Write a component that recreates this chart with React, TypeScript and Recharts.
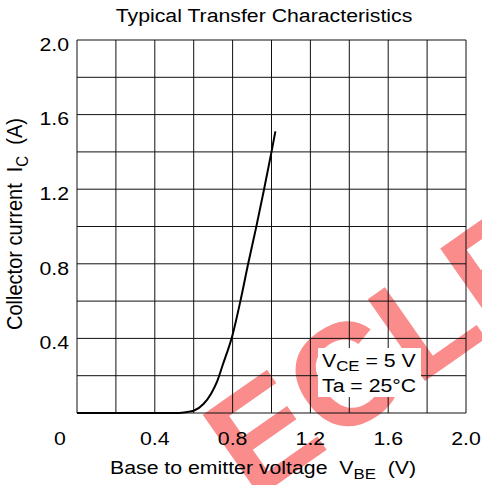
import React from 'react';
import { LineChart, Line, XAxis, YAxis, CartesianGrid } from 'recharts';

// VBE (V) vs IC (A)
const vbe = [0, 0.5, 0.55, 0.6, 0.65, 0.69, 0.72, 0.75, 0.8, 0.84, 0.88, 0.92, 0.96, 1.0, 1.02];
const ic = [0, 0, 0.003, 0.012, 0.048, 0.105, 0.168, 0.26, 0.42, 0.6, 0.8, 0.99, 1.19, 1.4, 1.51];

const gridSteps = [0, 0.2, 0.4, 0.6, 0.8, 1.0, 1.2, 1.4, 1.6, 1.8, 2.0];
const xLabels = ['0', '0.4', '0.8', '1.2', '1.6', '2.0'];
const yLabels = ['0.4', '0.8', '1.2', '1.6', '2.0'];

const data = vbe.map((v, i) => ({ vbe: v, ic: ic[i] }));

const FONT = '"Liberation Sans", Arial, Helvetica, sans-serif';
const SX = 1.12; // source picture is stretched a bit horizontally

const XTick = (props: any) => {
  const { x, y, payload } = props;
  const label = payload.value === 0 ? '0' : Number(payload.value).toFixed(1);
  if (!xLabels.includes(label)) return <g />;
  const dx = payload.value === 0 ? -17 : 0;
  return (
    <text
      transform={`translate(${x + dx},${y}) scale(${SX},1)`}
      textAnchor="middle"
      dy="0.71em"
      fontSize={19}
      fontFamily={FONT}
      fill="#000"
    >
      {label}
    </text>
  );
};

const YTick = (props: any) => {
  const { x, y, payload } = props;
  const label = Number(payload.value).toFixed(1);
  if (!yLabels.includes(label)) return <g />;
  return (
    <text
      transform={`translate(${x},${y + 4}) scale(${SX},1)`}
      textAnchor="end"
      dy="0.355em"
      fontSize={19}
      fontFamily={FONT}
      fill="#000"
    >
      {label}
    </text>
  );
};

const Watermark = () => (
  <svg width={482} height={485} style={{ position: 'absolute', left: 0, top: 0 }}>
    <text
      transform="translate(252,502) rotate(-35)"
      fontSize={145}
      fontWeight="bold"
      fontFamily={FONT}
      fill="#fa8c8c"
    >
      ECLE
    </text>
  </svg>
);

const Overlay = () => (
  <svg
    width={482}
    height={485}
    style={{ position: 'absolute', left: 0, top: 0, pointerEvents: 'none' }}
    fontFamily={FONT}
    fill="#000"
  >
    <text transform={`translate(264,22) scale(${SX},1)`} textAnchor="middle" fontSize={19}>
      Typical Transfer Characteristics
    </text>
    <text
      transform={`translate(263,474) scale(${SX},1)`}
      textAnchor="middle"
      fontSize={19}
      style={{ whiteSpace: 'pre' }}
    >
      {'Base to emitter voltage  V'}
      <tspan fontSize={15} dy={5}>BE</tspan>
      <tspan dy={-5}>{'  (V)'}</tspan>
    </text>
    <text
      transform={`translate(22,224) scale(${SX},1) rotate(-90)`}
      textAnchor="middle"
      fontSize={20}
      style={{ whiteSpace: 'pre' }}
    >
      {'Collector current  I'}
      <tspan fontSize={15} dy={5}>C</tspan>
      <tspan dy={-5}>{'  (A)'}</tspan>
    </text>
    <rect x={318} y={348} width={103} height={49} fill="#fff" />
    <text transform={`translate(322,367) scale(${SX},1)`} fontSize={19}>
      V<tspan fontSize={15} dy={4}>CE</tspan>
      <tspan dy={-4}>{' = 5 V'}</tspan>
    </text>
    <text transform={`translate(322,392) scale(${SX},1)`} fontSize={19}>
      Ta = 25°C
    </text>
  </svg>
);

const TransferChart = () => {
  return (
    <div style={{ position: 'absolute', left: 0, top: 0, width: 482, height: 485, background: '#fff', overflow: 'hidden' }}>
      <Watermark />
      <div style={{ position: 'absolute', left: 0, top: 0 }}>
        <LineChart
          width={482}
          height={485}
          data={data}
          margin={{ top: 40, right: 16, bottom: 42, left: 0 }}
        >
          <CartesianGrid stroke="#111" strokeWidth={1} />
          <XAxis
            dataKey="vbe"
            type="number"
            domain={[0, 2]}
            ticks={gridSteps}
            interval={0}
            height={30}
            tickLine={false}
            axisLine={false}
            tickMargin={13}
            tick={<XTick />}
          />
          <YAxis
            type="number"
            domain={[0, 2]}
            ticks={gridSteps}
            interval={0}
            width={77}
            tickLine={false}
            axisLine={false}
            tickMargin={2}
            tick={<YTick />}
          />
          <Line
            dataKey="ic"
            type="monotone"
            stroke="#000"
            strokeWidth={2}
            dot={false}
            isAnimationActive={false}
          />
        </LineChart>
      </div>
      <Overlay />
    </div>
  );
};

export default function App() {
  return <TransferChart />;
}
